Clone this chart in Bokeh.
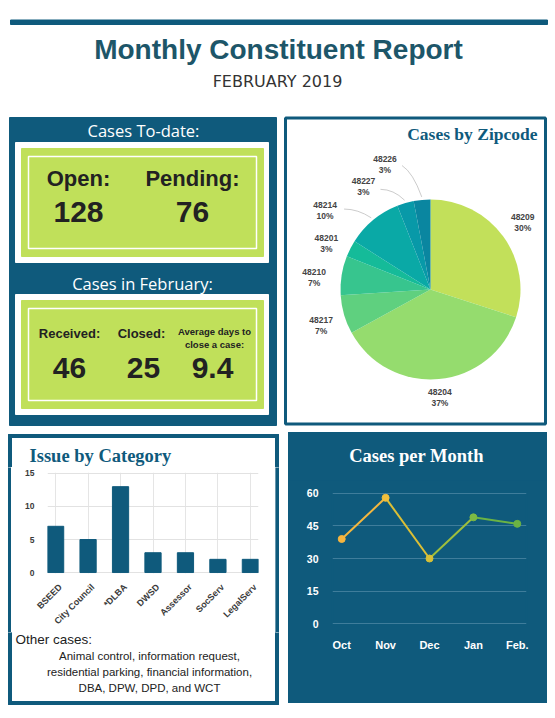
import math
from bokeh.plotting import figure
from bokeh.layouts import column, row
from bokeh.models import Range1d, FixedTicker, LinearAxis
from bokeh.core.properties import value
from bokeh.embed import file_html
from bokeh.resources import INLINE

# ---------------- data ----------------
report_title = "Monthly Constituent Report"
report_period = "FEBRUARY 2019"

todate_heading = "Cases To-date:"
todate_labels = ["Open:", "Pending:"]
todate_values = ["128", "76"]

month_heading = "Cases in February:"
month_labels = ["Received:", "Closed:"]
month_values = ["46", "25", "9.4"]
avg_label_lines = ["Average days to", "close a case:"]

zip_title = "Cases by Zipcode"
zip_codes = ["48209", "48204", "48217", "48210", "48201", "48214", "48227", "48226"]
zip_pct = [30, 37, 7, 7, 3, 10, 3, 3]

cat_title = "Issue by Category"
categories = ["BSEED", "City Council", "*DLBA", "DWSD", "Assessor", "SocServ", "LegalServ"]
category_counts = [7, 5, 13, 3, 3, 2, 2]
category_ticks = [0, 5, 10, 15]

other_title = "Other cases:"
other_lines = ["Animal control, information request,",
               "residential parking, financial information,",
               "DBA, DPW, DPD, and WCT"]

month_title = "Cases per Month"
months = ["Oct", "Nov", "Dec", "Jan", "Feb."]
monthly_cases = [39, 58, 30, 49, 46]
monthly_ticks = [0, 15, 30, 45, 60]

# ---------------- styles ----------------
BLUE = "#0f5a7c"
TITLE_C = "#1d5669"
LIME = "#c0e05a"
DARK = "#222222"
SANS = value("Liberation Sans")
SERIF = value("Liberation Serif")
zip_colors = ["#c2e05a", "#95dc6e", "#5fd07f", "#37c58e", "#15bb99", "#0aa9a6", "#0899a8", "#0a86a0"]
seg_colors = ["#f4b73f", "#dcbf35", "#9fbf3c", "#6bb344"]
pt_colors = ["#f6b53f", "#f0bf3c", "#d6c038", "#7dba44", "#6bb344"]


def canvas(x0, x1, y0, y1, bg="white", **kw):
    p = figure(width=int(x1 - x0), height=int(y1 - y0),
               x_range=Range1d(x0, x1), y_range=Range1d(y1, y0),
               x_axis_location=None, y_axis_location=None,
               toolbar_location=None, output_backend="svg", min_border=0,
               outline_line_color=None, background_fill_color=bg,
               border_fill_color=bg, frame_align=False, **kw)
    p.grid.visible = False
    return p


def txt(p, x, y, s, size, color=DARK, style="normal", font=SANS, align="center"):
    p.text(x=[x], y=[y], text=[s], text_align=align, text_baseline="middle",
           text_font=font, text_font_size=size, text_font_style=style, text_color=color)


def box(p, l, r, t, b, color=BLUE):
    p.quad(left=[l], right=[r], top=[t], bottom=[b], color=color)


# ---------------- header ----------------
hdr = canvas(0, 555, 0, 113)
box(hdr, 10, 547, 19.5, 24)
txt(hdr, 278, 49, report_title, "28px", TITLE_C, "bold")
txt(hdr, 277, 81, report_period, "16px", "#333333", font=value("DejaVu Sans"))

# ---------------- stats panel ----------------
st = canvas(0, 280, 113, 426)
box(st, 9, 276, 117, 425)
for (t, b) in [(142, 262), (294, 414)]:
    box(st, 15, 268, t, b, "white")
    box(st, 21, 263, t + 6, b - 6, LIME)
    st.quad(left=[28], right=[256], top=[t + 14], bottom=[b - 14], fill_color=None,
            line_color="white", line_width=1.5)
txt(st, 143, 130, todate_heading, "16.5px", "white", font=value("Open Sans"))
txt(st, 142, 283, month_heading, "16.5px", "white", font=value("Open Sans"))
for xc, lab, val in zip([78, 192], todate_labels, todate_values):
    txt(st, xc, 178, lab, "22px", DARK, "bold")
    txt(st, xc, 211, val, "30px", DARK, "bold")
for xc, lab in zip([69, 141], month_labels):
    txt(st, xc, 333, lab, "13px", DARK, "bold")
for i, line in enumerate(avg_label_lines):
    txt(st, 214, 331 + 13 * i, line, "9.5px", DARK, "bold")
for xc, val in zip([69, 143, 212], month_values):
    txt(st, xc, 367, val, "30px", DARK, "bold")

# ---------------- pie ----------------
CX, CY, R = 430, 289, 90
pie = figure(width=275, height=313, x_range=Range1d(280 - CX, 555 - CX),
             y_range=Range1d(CY - 426, CY - 113), x_axis_location=None, y_axis_location=None,
             toolbar_location=None, output_backend="svg", min_border=0, frame_align=False,
             outline_line_color=None, border_fill_color="white", background_fill_color="white")
pie.grid.visible = False
pie.quad(left=[285 - CX], right=[545 - CX], top=[CY - 117.5], bottom=[CY - 423.5],
         fill_color="white", line_color=BLUE, line_width=3)
total = float(sum(zip_pct))
cum = [0.0]
for v in zip_pct:
    cum.append(cum[-1] + v / total)
starts = [math.pi / 2 - 2 * math.pi * c for c in cum[:-1]]
ends = [math.pi / 2 - 2 * math.pi * c for c in cum[1:]]
pie.wedge(x=0, y=0, radius=R, start_angle=starts, end_angle=ends, direction="clock",
          fill_color=zip_colors, line_color=None)
# label placement (angle clockwise from top in degrees, distance in px)
label_place = [(54, 114), (175, 108), (252, 115), (276, 117), (294, 114), (307, 132), (327, 123), (340, 133)]
lx, ly, l1, l2 = [], [], [], []
for (ang, dist), z, v in zip(label_place, zip_codes, zip_pct):
    a = math.radians(ang)
    lx.append(dist * math.sin(a)); ly.append(dist * math.cos(a))
    l1.append(z); l2.append(f"{v}%")
pie.text(x=lx, y=[y + 5.5 for y in ly], text=l1, text_align="center", text_baseline="middle",
         text_font=SANS, text_font_size="8.5px", text_font_style="bold", text_color="#444444")
pie.text(x=lx, y=[y - 5.5 for y in ly], text=l2, text_align="center", text_baseline="middle",
         text_font=SANS, text_font_size="8.5px", text_font_style="bold", text_color="#444444")
for idx, (dx0, dy0, cdx, cdy) in zip([5, 6, 7], [(19, 1, 33, 1), (17, -3, 30, -3), (17, -1, 28, -8)]):
    mid = (cum[idx] + cum[idx + 1]) / 2 * 2 * math.pi
    ex, ey = 93 * math.sin(mid), 93 * math.cos(mid)
    pie.quadratic(x0=[lx[idx] + dx0], y0=[ly[idx] + dy0], x1=[ex], y1=[ey],
                  cx=[lx[idx] + cdx], cy=[ly[idx] + cdy], line_color="#cccccc", line_width=1)
pie.text(x=[537 - CX], y=[CY - 133], text=[zip_title], text_align="right", text_baseline="middle",
         text_font=SERIF, text_font_size="17.5px", text_font_style="bold", text_color=BLUE)

# ---------------- bar chart (bottom left) ----------------
bt = canvas(0, 283, 426, 467)
box(bt, 8, 278, 434, 437)
box(bt, 8, 11, 434, 475)
box(bt, 275, 278, 434, 475)
txt(bt, 29, 455, cat_title, "18.5px", BLUE, "bold", SERIF, "left")

bl = canvas(0, 11, 467, 632)
box(bl, 8, 11, 455, 640)
br = canvas(275, 283, 467, 632)
box(br, 275, 278, 455, 640)

n = len(categories)
pb = figure(width=264, height=165, x_range=Range1d(-0.25, n - 0.75),
            y_range=Range1d(-0.144, 15.144), toolbar_location=None, output_backend="svg",
            min_border_left=36, min_border_right=17, min_border_top=5, min_border_bottom=54,
            outline_line_color="white", outline_line_width=1,
            background_fill_color="white", border_fill_color="white",
            frame_align=False, x_axis_location=None)
pb.vbar(x=list(range(n)), top=category_counts, width=0.5, color=BLUE)
pb.ygrid.ticker = FixedTicker(ticks=category_ticks)
pb.ygrid.grid_line_color = "#e2e2e2"
pb.yaxis.ticker = FixedTicker(ticks=category_ticks)
# label axis slightly offset so rotated labels end beside each bar, as in the source
pb.extra_x_ranges = {"labels": Range1d(-0.25 - 0.15, n - 0.75 - 0.15)}
xa = LinearAxis(x_range_name="labels", ticker=FixedTicker(ticks=list(range(n))),
                major_label_overrides={i: c for i, c in enumerate(categories)},
                major_label_orientation=math.pi / 4)
pb.add_layout(xa, "below")
for ax in (xa, pb.yaxis[0]):
    ax.axis_line_color = None
    ax.major_tick_line_color = None
    ax.minor_tick_line_color = None
    ax.major_label_text_font = "Liberation Sans"
    ax.major_label_text_font_style = "bold"
    ax.major_label_text_color = "#3a3a3a"
pb.yaxis.major_label_text_font_size = "8.5px"
pb.yaxis.major_label_standoff = 7
xa.major_label_text_font_size = "9px"
xa.major_label_standoff = 6

bb = canvas(0, 283, 632, 716)
box(bb, 8, 11, 625, 704)
box(bb, 275, 278, 625, 704)
box(bb, 8, 278, 701, 704)
txt(bb, 15, 639, other_title, "13.5px", DARK, align="left")
for i, line in enumerate(other_lines):
    txt(bb, 149, 655 + 16 * i, line, "11.5px", DARK)

left_bottom = column(bt, row(bl, pb, br), bb)

# ---------------- line chart (bottom right) ----------------
lt = canvas(288, 547, 432, 480, bg=BLUE)
txt(lt, 416, 455, month_title, "18.5px", "white", "bold", SERIF)

m = len(months)
pl = figure(width=259, height=223, x_range=Range1d(-0.21, m - 1 + 0.21),
            y_range=Range1d(-0.92, 60.92), toolbar_location=None, output_backend="svg",
            min_border_left=44, min_border_right=21, min_border_top=11, min_border_bottom=78,
            outline_line_color=BLUE, outline_line_width=2,
            background_fill_color=BLUE, border_fill_color=BLUE, frame_align=False)
xs = list(range(m))
pl.segment(x0=xs[:-1], y0=monthly_cases[:-1], x1=xs[1:], y1=monthly_cases[1:],
           line_color=seg_colors, line_width=2)
pl.scatter(x=xs, y=monthly_cases, size=7, fill_color=pt_colors, line_color=pt_colors)
pl.xgrid.visible = False
pl.ygrid.ticker = FixedTicker(ticks=monthly_ticks)
pl.ygrid.grid_line_color = "#3f7d9b"
pl.yaxis.ticker = FixedTicker(ticks=monthly_ticks)
pl.xaxis.ticker = FixedTicker(ticks=xs)
pl.xaxis.major_label_overrides = {i: mo for i, mo in enumerate(months)}
for ax in (pl.xaxis, pl.yaxis):
    ax.axis_line_color = None
    ax.major_tick_line_color = None
    ax.minor_tick_line_color = None
    ax.major_label_text_font = "Liberation Sans"
    ax.major_label_text_font_style = "bold"
    ax.major_label_text_color = "white"
pl.yaxis.major_label_text_font_size = "10.5px"
pl.yaxis.major_label_standoff = 8
pl.xaxis.major_label_text_font_size = "11px"
pl.xaxis.major_label_standoff = 7

right_bottom = column(lt, pl, margin=(6, 8, 13, 5), styles={"background-color": BLUE})

layout = column(hdr, row(st, pie), row(left_bottom, right_bottom))
open("out.html", "w").write(file_html(layout, INLINE))
